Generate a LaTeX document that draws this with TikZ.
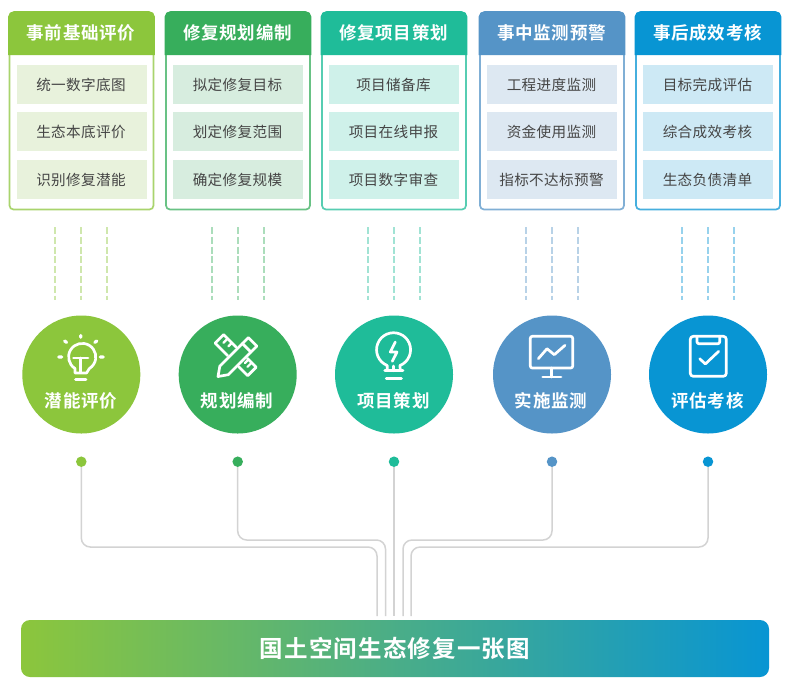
\documentclass[tikz,border=0pt]{standalone}
\usepackage{fontspec}
\newfontfamily\cjkhead[LetterSpace=4,BoldFont={Noto Sans CJK SC Bold}]{Noto Sans CJK SC}
\newfontfamily\cjkbody[LetterSpace=2.5]{Noto Sans CJK SC}
\newfontfamily\cjkbar[LetterSpace=5,BoldFont={Noto Sans CJK SC Bold}]{Noto Sans CJK SC}
\definecolor{ca}{HTML}{8CC63C}\definecolor{cb}{HTML}{37AE5C}\definecolor{cc}{HTML}{1FBC99}\definecolor{cd}{HTML}{5594C7}\definecolor{ce}{HTML}{0895D3}
\definecolor{la}{HTML}{E8F2DC}\definecolor{lb}{HTML}{D7EDDF}\definecolor{lc}{HTML}{CFF1EA}\definecolor{ld}{HTML}{DDE8F2}\definecolor{le}{HTML}{CDE9F5}
\definecolor{connc}{HTML}{D3D3D3}\definecolor{itemtxt}{HTML}{454545}\definecolor{barmid}{HTML}{5CAF8E}
\tikzset{
  cardbox/.style={draw=#1!75!white,line width=1.7pt,fill=white,rounded corners=4pt,minimum width=144pt,minimum height=197pt,inner sep=0pt,outer sep=0pt},
  headtxt/.style={text=white,inner sep=0pt,font=\cjkhead\bfseries\fontsize{17.5}{19}\selectfont},
  itembox/.style={fill=#1,minimum width=130pt,minimum height=39pt,inner sep=0pt,outer sep=0pt,text=itemtxt,font=\cjkbody\fontsize{14.6}{16}\selectfont},
  disc/.style={circle,fill=#1,minimum size=118pt,inner sep=0pt},
  discdot/.style={circle,fill=#1,minimum size=10.5pt,inner sep=0pt},
  dashline/.style={draw=#1!42!white,line width=1.4pt,dash pattern=on 7pt off 2.8pt},
  conn/.style={draw=connc,line width=1.5pt,rounded corners=9pt},
  ico/.style={draw=white,line width=2.7pt,line cap=round,line join=round},
  barbox/.style={rounded corners=9pt,minimum width=748pt,minimum height=57pt,inner sep=0pt,left color=ca,middle color=barmid,right color=ce,text=white,font=\cjkbar\bfseries\fontsize{23.5}{25}\selectfont}
}
\newcommand{\cardcol}[8]{%
  \node[cardbox=#3] (c#1) at (#2+72.5,111) {};
  \fill[#3] (#2-.8,55) -- (#2-.8,16.5) .. controls (#2-.8,13.5) and (#2+2,11.2) .. (#2+5,11.2) -- (#2+140,11.2) .. controls (#2+143,11.2) and (#2+145.8,13.5) .. (#2+145.8,16.5) -- (#2+145.8,55) -- cycle;
  \node[headtxt] (h#1) at (#2+72,33) {#5};
  \node[itembox=#4] (i#1a) at (#2+72.5,84.5) {\hspace*{-1pt}#6};
  \node[itembox=#4] (i#1b) at (#2+72.5,131.5) {\hspace*{-1pt}#7};
  \node[itembox=#4] (i#1c) at (#2+72.5,179.5) {\hspace*{-1pt}#8};
}
\newcommand{\downcol}[3]{%
  \foreach \dx/\nm in {-26/l,0/m,26/r}{
    \coordinate (s#1\nm) at (#2+\dx,227);
    \coordinate (f#1\nm) at (#2+\dx,300);
    \draw[dashline=#3] (s#1\nm) -- (f#1\nm);
  }
}
\begin{document}
\begin{tikzpicture}[x=1pt,y=-1pt]
\useasboundingbox (0,0) rectangle (786,689);
\fill[white] (0,0) rectangle (786,689);
\cardcol{1}{9}{ca}{la}{事前基础评价}{统一数字底图}{生态本底评价}{识别修复潜能}
\cardcol{2}{165.5}{cb}{lb}{修复规划编制}{拟定修复目标}{划定修复范围}{确定修复规模}
\cardcol{3}{321.5}{cc}{lc}{修复项目策划}{项目储备库}{项目在线申报}{项目数字审查}
\cardcol{4}{479.5}{cd}{ld}{事中监测预警}{工程进度监测}{资金使用监测}{指标不达标预警}
\cardcol{5}{635.5}{ce}{le}{事后成效考核}{目标完成评估}{综合成效考核}{生态负债清单}
\downcol{1}{81}{ca}\downcol{2}{238}{cb}\downcol{3}{394}{cc}\downcol{4}{551.9}{cd}\downcol{5}{708}{ce}
\node[disc=ca] (n1) at (81.3,374.5) {};
\node[disc=cb] (n2) at (237.7,374.5) {};
\node[disc=cc] (n3) at (394,374.5) {};
\node[disc=cd] (n4) at (552,374.5) {};
\node[disc=ce] (n5) at (708,374.5) {};
\node[headtxt] (t1) at (81,400.5) {潜能评价};
\node[headtxt] (t2) at (237,400.5) {规划编制};
\node[headtxt] (t3) at (393.5,400.5) {项目策划};
\node[headtxt] (t4) at (551,400.5) {实施监测};
\node[headtxt] (t5) at (707.5,400.5) {评估考核};
% bulb with T
\draw[ico] (75,373) -- (75,368.5) arc[start angle=238,end angle=-58,radius=13.6pt] -- (86.5,373) -- cycle;
\draw[ico] (73.5,358) -- (88,358) (80.7,358) -- (80.7,372);
\draw[ico] (75.5,379.5) -- (86,379.5);
\draw[ico,line width=3.2pt] (80.7,335.5) -- (80.7,337.2) (64.6,341) -- (66.6,342.4) (96.8,341) -- (94.8,342.4) (58.8,357) -- (61.8,357) (100.2,357) -- (103.2,357);
% crossed pencil and ruler
\begin{scope}[shift={(237.5,357)},x={(.707pt,.707pt)},y={(.707pt,-.707pt)}]
  \draw[ico] (-27.6,0) -- (-19,-6) -- (21.4,-6) -- (21.4,6) -- (-19,6) -- cycle;
  \draw[ico] (13,-6) -- (13,6);
  \draw[ico] (-6,-8) -- (-6,-25.6) -- (6,-25.6) -- (6,-8);
  \draw[ico] (-6,8) -- (-6,20.4) -- (6,20.4) -- (6,8);
  \draw[ico,line width=2.2pt] (0,-20) -- (6,-20) (1,-14) -- (6,-14) (0,14) -- (6,14) (1,9.5) -- (6,9.5);
\end{scope}
% bulb with bolt
\draw[ico] (387.2,370.5) -- (387.2,365.5) arc[start angle=248,end angle=-68,radius=17pt] -- (400.3,370.5);
\draw[ico] (384.8,370.7) -- (403,370.7) (393.7,366) -- (393.7,370.7) (386.2,378.7) -- (401.5,378.7);
\draw[ico] (395.3,342) -- (390.3,352) -- (397,352) -- (392.3,361.3);
% monitor
\draw[ico,rounded corners=2pt] (530.3,336.3) rectangle (572.7,368);
\draw[ico] (551.7,368) -- (551.7,377) (542.7,377) -- (561,377);
\draw[ico] (538.3,358.7) -- (547,348.7) -- (554.3,354.7) -- (565,345.3);
% clipboard
\draw[ico,rounded corners=3pt] (690.3,336.3) rectangle (726.3,376.3);
\draw[ico,rounded corners=2pt] (697,336.3) -- (697,343.8) -- (719.7,343.8) -- (719.7,336.3);
\draw[ico] (699.7,358.7) -- (705.3,364) -- (718.7,351.3);
% bottom bar and connectors
\node[barbox] (bar) at (395,648.5) {国土空间生态修复一张图};
\coordinate (k1) at (377,547); \coordinate (e1) at (377,616);
\coordinate (k2) at (385.5,540); \coordinate (e2) at (385.5,616);
\coordinate (e3) at (394,616);
\coordinate (k4) at (403,540); \coordinate (e4) at (403,616);
\coordinate (k5) at (411,547); \coordinate (e5) at (411,616);
\node[discdot=ca] (d1) at (81.3,461.7) {};
\node[discdot=cb] (d2) at (237.7,461.7) {};
\node[discdot=cc] (d3) at (394,461.7) {};
\node[discdot=cd] (d4) at (552,461.7) {};
\node[discdot=ce] (d5) at (708,461.7) {};
\draw[conn] (d1.south) -- (d1.south |- k1) -- (k1) -- (e1);
\draw[conn] (d2.south) -- (d2.south |- k2) -- (k2) -- (e2);
\draw[conn] (d3.south) -- (e3);
\draw[conn] (d4.south) -- (d4.south |- k4) -- (k4) -- (e4);
\draw[conn] (d5.south) -- (d5.south |- k5) -- (k5) -- (e5);
\end{tikzpicture}
\end{document}
